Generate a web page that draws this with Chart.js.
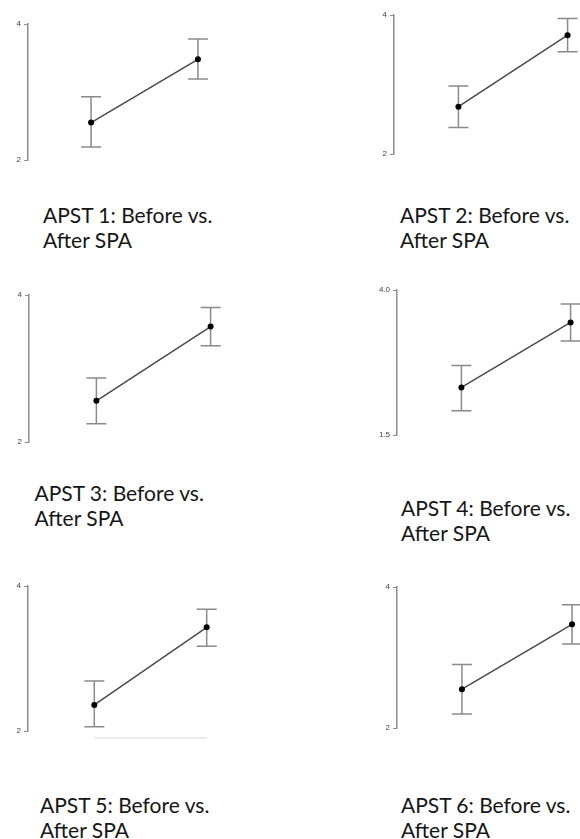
<!DOCTYPE html>
<html>
<head>
<meta charset="utf-8">
<script src="https://cdn.jsdelivr.net/npm/chart.js@4"></script>
<style>
  html, body { margin: 0; padding: 0; background: #fff; }
  #page { position: relative; width: 580px; height: 839px; overflow: hidden; background: #fff; }
  .panel { position: absolute; }
  .caption {
    position: absolute;
    font-family: Lato, "Open Sans", sans-serif;
    font-size: 21px;
    line-height: 25px;
    color: #161616;
    white-space: pre;
  }
</style>
</head>
<body>
<div id="page"></div>
<script>
// Data
const panelTitles = [
    'APST 1: Before vs.\nAfter SPA',
    'APST 2: Before vs.\nAfter SPA',
    'APST 3: Before vs.\nAfter SPA',
    'APST 4: Before vs.\nAfter SPA',
    'APST 5: Before vs.\nAfter SPA',
    'APST 6: Before vs.\nAfter SPA'
];
const categories = ['Before SPA', 'After SPA'];

const meanBefore = [2.55, 2.68, 2.56, 2.32, 2.36, 2.55];
const meanAfter  = [3.48, 3.71, 3.57, 3.44, 3.43, 3.47];
const lowBefore  = [2.19, 2.38, 2.25, 1.92, 2.06, 2.20];
const highBefore = [2.93, 2.98, 2.87, 2.70, 2.69, 2.90];
const lowAfter   = [3.19, 3.47, 3.31, 3.12, 3.17, 3.19];
const highAfter  = [3.78, 3.95, 3.83, 3.76, 3.68, 3.75];

const yMin = [2, 2, 2, 1.5, 2, 2];
const yMax = [4, 4, 4, 4, 4, 4];
const tickLabels = [['2', '4'], ['2', '4'], ['2', '4'], ['1.5', '4.0'], ['2', '4'], ['2', '4']];

// Where each little plot sits on the page (axis x, top/bottom of axis, px between the two points)
const panelLayout = [
    { axis: 27.5, top: 24, bottom: 160, gap: 108.3, capX: 43, capY: 202 },
    { axis: 394.3, top: 15.3, bottom: 154.3, gap: 111, capX: 400, capY: 202 },
    { axis: 29, top: 295, bottom: 441.7, gap: 115.6, capX: 34.5, capY: 479.5 },
    { axis: 396.7, top: 290, bottom: 434.3, gap: 110.6, capX: 401, capY: 495 },
    { axis: 28.3, top: 585.7, bottom: 730, gap: 114, capX: 40, capY: 791.5, baseLine: true },
    { axis: 396.7, top: 586.7, bottom: 727.3, gap: 111.7, capX: 401, capY: 791.5 }
];

const AXIS_W = 24;
const PAD = 12;
const X_MIN = 0.41;
const X_MAX = 2.59;

const errorBars = {
    id: 'errorBars',
    beforeDatasetsDraw(chart, args, opts) {
        const ctx = chart.ctx;
        const x = chart.scales.x;
        const y = chart.scales.y;
        ctx.save();
        ctx.strokeStyle = '#8a8a8a';
        ctx.lineWidth = 1.5;
        opts.low.forEach(function(lo, k) {
            const px = x.getPixelForValue(k + 1);
            const yl = y.getPixelForValue(lo);
            const yh = y.getPixelForValue(opts.high[k]);
            ctx.beginPath();
            ctx.moveTo(px, yl); ctx.lineTo(px, yh);
            ctx.moveTo(px - 10, yl); ctx.lineTo(px + 10, yl);
            ctx.moveTo(px - 10, yh); ctx.lineTo(px + 10, yh);
            ctx.stroke();
        });
        if (opts.baseLine) {
            // faint leftover line under panel 5
            const yb = chart.chartArea.bottom + 7;
            ctx.strokeStyle = '#e6e6e6';
            ctx.beginPath();
            ctx.moveTo(x.getPixelForValue(1), yb);
            ctx.lineTo(x.getPixelForValue(2), yb);
            ctx.stroke();
        }
        ctx.restore();
    }
};

const page = document.getElementById('page');

panelLayout.forEach(function(lay, i) {
    const plotH = lay.bottom - lay.top;
    const plotW = (X_MAX - X_MIN) * lay.gap;

    const holder = document.createElement('div');
    holder.className = 'panel';
    holder.style.left = (lay.axis - AXIS_W) + 'px';
    holder.style.top = (lay.top - PAD) + 'px';
    const canvas = document.createElement('canvas');
    canvas.width = Math.ceil(AXIS_W + plotW);
    canvas.height = Math.ceil(plotH + 2 * PAD);
    canvas.style.width = canvas.width + 'px';
    canvas.style.height = canvas.height + 'px';
    holder.appendChild(canvas);
    page.appendChild(holder);

    new Chart(canvas.getContext('2d'), {
        type: 'line',
        data: {
            labels: categories,
            datasets: [{
                data: [
                    { x: 1, y: meanBefore[i] },
                    { x: 2, y: meanAfter[i] }
                ],
                borderColor: '#4a4a4a',
                borderWidth: 1.5,
                pointRadius: 3,
                pointBackgroundColor: '#000',
                pointBorderWidth: 0,
                clip: false
            }]
        },
        options: {
            responsive: false,
            animation: false,
            devicePixelRatio: 1,
            layout: { padding: { top: PAD, bottom: PAD, left: 0, right: 0 } },
            plugins: {
                legend: { display: false },
                tooltip: { enabled: false },
                errorBars: {
                    low: [lowBefore[i], lowAfter[i]],
                    high: [highBefore[i], highAfter[i]],
                    baseLine: !!lay.baseLine
                }
            },
            scales: {
                x: {
                    type: 'linear',
                    min: X_MIN,
                    max: X_MAX,
                    display: false
                },
                y: {
                    min: yMin[i],
                    max: yMax[i],
                    afterBuildTicks: function(scale) {
                        scale.ticks = [{ value: yMin[i] }, { value: yMax[i] }];
                    },
                    afterFit: function(scale) {
                        scale.width = AXIS_W;
                        scale.paddingTop = 0;
                        scale.paddingBottom = 0;
                    },
                    grid: {
                        drawOnChartArea: false,
                        drawTicks: true,
                        tickLength: 4,
                        color: '#8c8c8c',
                        lineWidth: 1
                    },
                    border: { display: true, color: '#8c8c8c', width: 1.5 },
                    ticks: {
                        padding: 3,
                        color: '#444',
                        font: { family: '"Liberation Sans", Arial, sans-serif', size: 8 },
                        callback: function(value, idx) {
                            return tickLabels[i][idx];
                        }
                    }
                }
            }
        },
        plugins: [errorBars]
    });

    const cap = document.createElement('div');
    cap.className = 'caption';
    cap.style.left = lay.capX + 'px';
    cap.style.top = lay.capY + 'px';
    cap.textContent = panelTitles[i];
    page.appendChild(cap);
});
</script>
</body>
</html>
